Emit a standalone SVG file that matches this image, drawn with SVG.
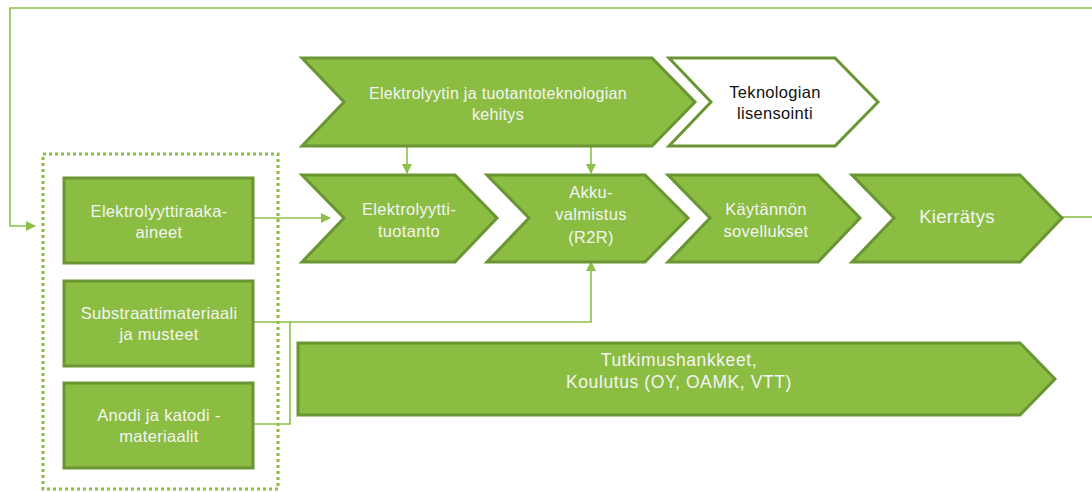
<svg xmlns="http://www.w3.org/2000/svg" width="1092" height="492" viewBox="0 0 1092 492">
  <defs>
    <marker id="arrowL" viewBox="0 0 10 10" refX="9" refY="5" markerWidth="10" markerHeight="10" orient="auto" markerUnits="userSpaceOnUse">
      <path d="M0,0 L10,5 L0,10 Z" fill="#8CC04A"/>
    </marker>
  </defs>
  <style>
    .shape { fill: #8BBD42; stroke: #6A9533; stroke-width: 3; stroke-linejoin: miter; }
    .white { fill: #FFFFFF; stroke: #6A9533; stroke-width: 3; }
    .dots { fill: none; stroke: #8BBD42; stroke-width: 3; stroke-dasharray: 3 3; }
    .link { fill: none; stroke: #8CC04A; stroke-width: 1.6; }
    text { font-family: "Liberation Sans", Arial, sans-serif; font-size: 16.5px; letter-spacing: 0.3px; text-anchor: middle; fill: #F4F4F4; }
    .dark { fill: #111111; }
    .big { font-size: 18.5px; }
    .wide { font-size: 17.5px; letter-spacing: 0.6px; }
  </style>

  <rect width="1092" height="492" fill="#FFFFFF"/>

  <!-- connectors -->
  <g id="connectors">
    <path class="link" d="M1092,8 H10 V226 H35" marker-end="url(#arrowL)"/>
    <path class="link" d="M1062,217 H1092"/>
    <path class="link" d="M253,218 H330" marker-end="url(#arrowL)"/>
    <path class="link" d="M407,146 V173" marker-end="url(#arrowL)"/>
    <path class="link" d="M591,146 V173" marker-end="url(#arrowL)"/>
    <path class="link" d="M253,322 H591 V262" marker-end="url(#arrowL)"/>
    <path class="link" d="M253,424 H290 V322"/>
  </g>

  <!-- raw material group -->
  <rect id="materials-group" class="dots" x="43" y="154" width="235" height="335"/>

  <g id="raw-electrolyte">
    <rect class="shape" x="64" y="178" width="189" height="85"/>
    <text x="159" y="217">Elektrolyyttiraaka-</text>
    <text x="159" y="238">aineet</text>
  </g>

  <g id="substrate">
    <rect class="shape" x="64" y="281" width="189" height="85"/>
    <text x="159" y="319">Substraattimateriaali</text>
    <text x="159" y="340">ja musteet</text>
  </g>

  <g id="electrodes">
    <rect class="shape" x="64" y="383" width="189" height="85"/>
    <text x="159" y="421">Anodi ja katodi -</text>
    <text x="159" y="442">materiaalit</text>
  </g>

  <!-- development row -->
  <g id="development">
    <polygon class="shape" points="302,58 652,58 695,102 652,146 302,146 344,102"/>
    <text x="498" y="99" style="font-size:16px">Elektrolyytin ja tuotantoteknologian</text>
    <text x="498" y="120" style="font-size:16px">kehitys</text>
  </g>

  <g id="licensing">
    <polygon class="white" points="669,58 835,58 878,102 835,146 669,146 711,102"/>
    <text class="dark" x="775" y="98">Teknologian</text>
    <text class="dark" x="775" y="119">lisensointi</text>
  </g>

  <!-- value chain -->
  <g id="electrolyte-production">
    <polygon class="shape" points="302,175 455,175 497,218 455,262 302,262 344,218"/>
    <text x="409" y="215">Elektrolyytti-</text>
    <text x="409" y="237">tuotanto</text>
  </g>

  <g id="battery-manufacturing">
    <polygon class="shape" points="487,175 645,175 688,218 645,262 487,262 529,218"/>
    <text x="591" y="198">Akku-</text>
    <text x="591" y="220">valmistus</text>
    <text x="591" y="243">(R2R)</text>
  </g>

  <g id="applications">
    <polygon class="shape" points="668,175 818,175 860,218 818,262 668,262 710,218"/>
    <text x="766" y="215">Käytännön</text>
    <text x="766" y="237">sovellukset</text>
  </g>

  <g id="recycling">
    <polygon class="shape" points="852,175 1020,175 1062,218 1020,262 852,262 894,218"/>
    <text class="big" x="957" y="223">Kierrätys</text>
  </g>

  <!-- research bar -->
  <g id="research">
    <polygon class="shape" points="298,343 1020,343 1055,379 1020,415 298,415"/>
    <text class="wide" x="679" y="366">Tutkimushankkeet,</text>
    <text class="wide" x="679" y="388">Koulutus (OY, OAMK, VTT)</text>
  </g>
</svg>
